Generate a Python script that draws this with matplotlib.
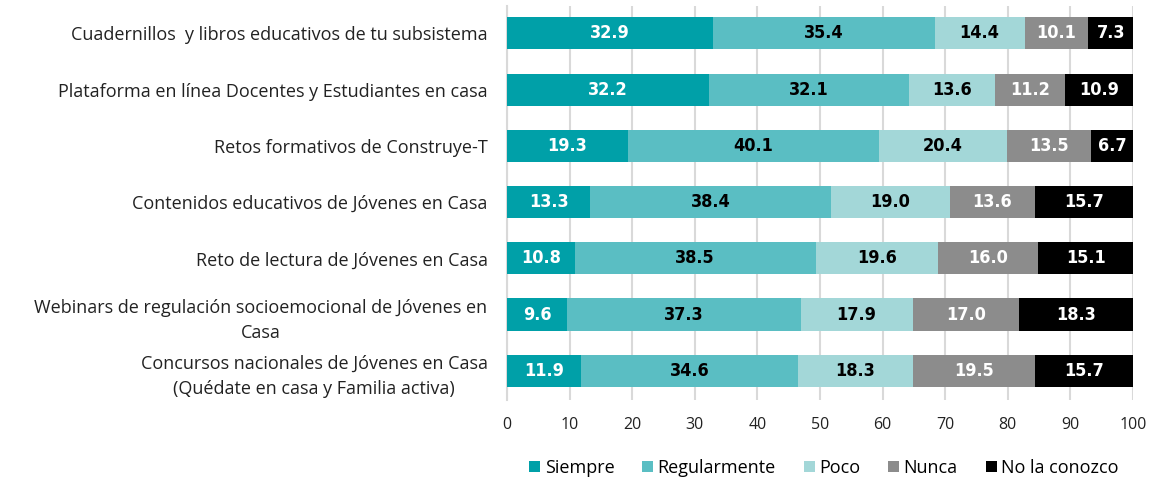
import matplotlib
matplotlib.use("Agg")
import matplotlib.pyplot as plt

categories = [
    "Cuadernillos  y libros educativos de tu subsistema",
    "Plataforma en línea Docentes y Estudiantes en casa",
    "Retos formativos de Construye-T",
    "Contenidos educativos de Jóvenes en Casa",
    "Reto de lectura de Jóvenes en Casa",
    "Webinars de regulación socioemocional de Jóvenes en\nCasa",
    "Concursos nacionales de Jóvenes en Casa\n(Quédate en casa y Familia activa)",
]
series_names = ["Siempre", "Regularmente", "Poco", "Nunca", "No la conozco"]
siempre = [32.9, 32.2, 19.3, 13.3, 10.8, 9.6, 11.9]
regularmente = [35.4, 32.1, 40.1, 38.4, 38.5, 37.3, 34.6]
poco = [14.4, 13.6, 20.4, 19.0, 19.6, 17.9, 18.3]
nunca = [10.1, 11.2, 13.5, 13.6, 16.0, 17.0, 19.5]
no_conozco = [7.3, 10.9, 6.7, 15.7, 15.1, 18.3, 15.7]
xticks = [0, 10, 20, 30, 40, 50, 60, 70, 80, 90, 100]

series = [siempre, regularmente, poco, nunca, no_conozco]
colors = ["#00A0A8", "#5ABEC3", "#A3D7D8", "#8C8C8C", "#000000"]
text_colors = ["white", "black", "black", "white", "white"]

plt.rcParams["font.family"] = ["Open Sans", "DejaVu Sans"]

fig = plt.figure(figsize=(11.54, 4.8), dpi=100)
ax = fig.add_axes([0.4393, 0.1667, 0.5425, 0.82])

n = len(categories)
ypos = list(range(n))
left = [0.0] * n
for vals, col, tc, name in zip(series, colors, text_colors, series_names):
    ax.barh(ypos, vals, left=left, height=0.57, color=col, label=name, zorder=3)
    for y, v, l in zip(ypos, vals, left):
        ax.text(l + v / 2, y, f"{v:.1f}", ha="center", va="center", color=tc,
                fontsize=13, fontweight="bold", family="DejaVu Sans",
                fontstretch="condensed", zorder=4)
    left = [a + b for a, b in zip(left, vals)]

ax.set_ylim(n - 0.5 + 0.02, -0.48)
ax.set_xlim(0, 100)
ax.set_xticks(xticks)
ax.set_yticks(ypos)
ax.set_yticklabels(categories, fontsize=13, color="#222222")
for lab in ax.get_yticklabels():
    lab.set_multialignment("center")
    lab.set_linespacing(1.55)
ax.tick_params(axis="y", length=0, pad=14)
ax.tick_params(axis="x", length=0, labelsize=11.5, colors="#222222", pad=12)
ax.xaxis.grid(True, color="#D9D9D9", linewidth=1.5, zorder=0)
for s in ["top", "right", "bottom"]:
    ax.spines[s].set_visible(False)
ax.spines["left"].set_color("#D9D9D9")
ax.spines["left"].set_linewidth(1.5)

handles, labels = ax.get_legend_handles_labels()
fig.legend(handles, labels, loc="center", bbox_to_anchor=(0.714, 0.025), ncol=5,
           frameon=False, fontsize=13, handlelength=0.6, handleheight=0.6,
           handletextpad=0.25, columnspacing=1.55)

fig.savefig("out.png", dpi=100)
